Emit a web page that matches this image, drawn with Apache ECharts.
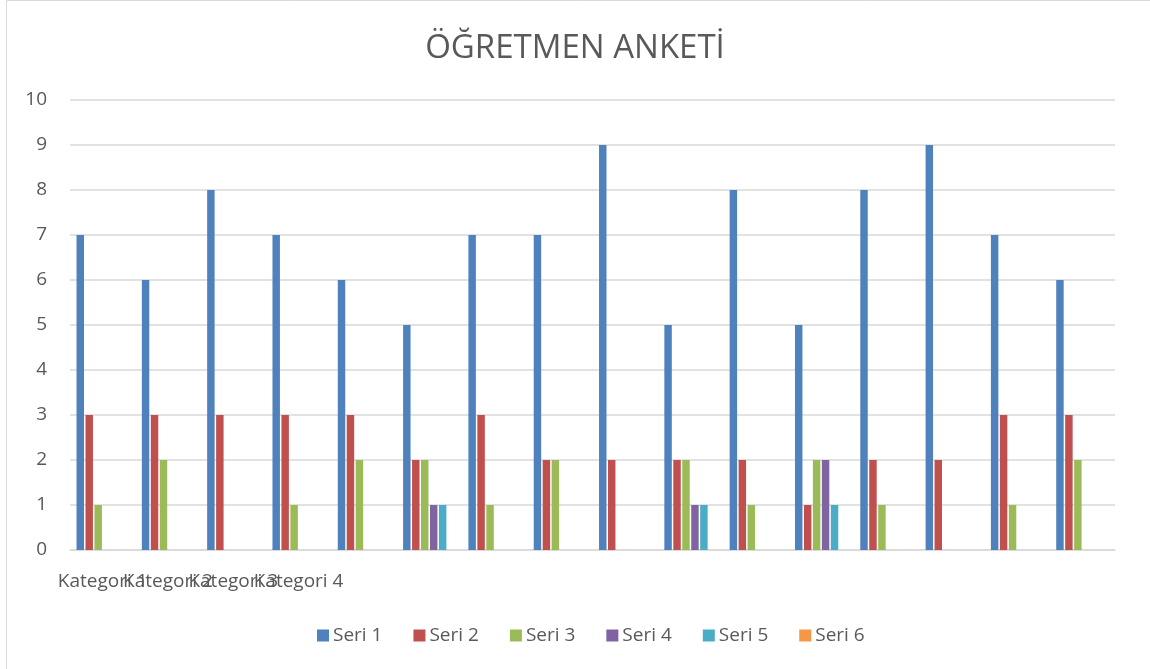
<!DOCTYPE html>
<html><head><meta charset="utf-8">
<script src="https://cdn.jsdelivr.net/npm/echarts@6/dist/echarts.min.js"></script>
<style>html,body{margin:0;padding:0;background:#fff}#c{width:1150px;height:669px}</style>
</head><body><div id="c"></div>
<script>
const categories = ['Kategori 1','Kategori 2','Kategori 3','Kategori 4','','','','','','','','','','','',''];
const seriesNames = ['Seri 1','Seri 2','Seri 3','Seri 4','Seri 5','Seri 6'];
const seri1 = [7,6,8,7,6,5,7,7,9,5,8,5,8,9,7,6];
const seri2 = [3,3,3,3,3,2,3,2,2,2,2,1,2,2,3,3];
const seri3 = [1,2,0,1,2,2,1,2,0,2,1,2,1,0,1,2];
const seri4 = [0,0,0,0,0,1,0,0,0,1,0,2,0,0,0,0];
const seri5 = [0,0,0,0,0,1,0,0,0,1,0,1,0,0,0,0];
const seri6 = [0,0,0,0,0,0,0,0,0,0,0,0,0,0,0,0];
const colors = ['#4F81BD','#C0504D','#9BBB59','#8064A2','#4BACC6','#F79646'];
const allData = [seri1,seri2,seri3,seri4,seri5,seri6];

const chart = echarts.init(document.getElementById('c'));
chart.setOption({
  animation:false,
  color: colors,
  textStyle:{fontFamily:'"Open Sans", "Noto Sans", sans-serif'},
  graphic:[{type:'rect',shape:{x:6.5,y:0.5,width:1160,height:680},style:{fill:'none',stroke:'#d9d9d9',lineWidth:1}}],
  title:{text:'ÖĞRETMEN ANKETİ',left:'center',top:27,textStyle:{fontSize:33,fontWeight:'normal',color:'#595959',fontFamily:'"Open Sans", "Noto Sans", sans-serif'}},
  legend:{bottom:19,left:312,itemWidth:12,itemHeight:12,itemGap:31,icon:'rect',
    textStyle:{fontSize:19,color:'#595959',padding:[0,0,0,-1]},data:seriesNames},
  grid:{left:70,right:35,top:100,bottom:119,containLabel:false},
  xAxis:{type:'category',data:categories,
    axisLine:{lineStyle:{color:'#d9d9d9',width:1.5}},axisTick:{show:false},
    axisLabel:{interval:0,color:'#595959',fontSize:19,margin:22,overflow:'none'}},
  yAxis:{type:'value',min:0,max:10,interval:1,
    axisLine:{show:false},axisTick:{show:false},
    axisLabel:{color:'#595959',fontSize:19,margin:23},
    splitLine:{lineStyle:{color:'#d9d9d9',width:1.5}}},
  series: seriesNames.map((n,i)=>({name:n,type:'bar',data:allData[i],
    barGap:'20%',barCategoryGap:'20%',
    itemStyle:{color:colors[i],borderWidth:0}}))
});
</script></body></html>
